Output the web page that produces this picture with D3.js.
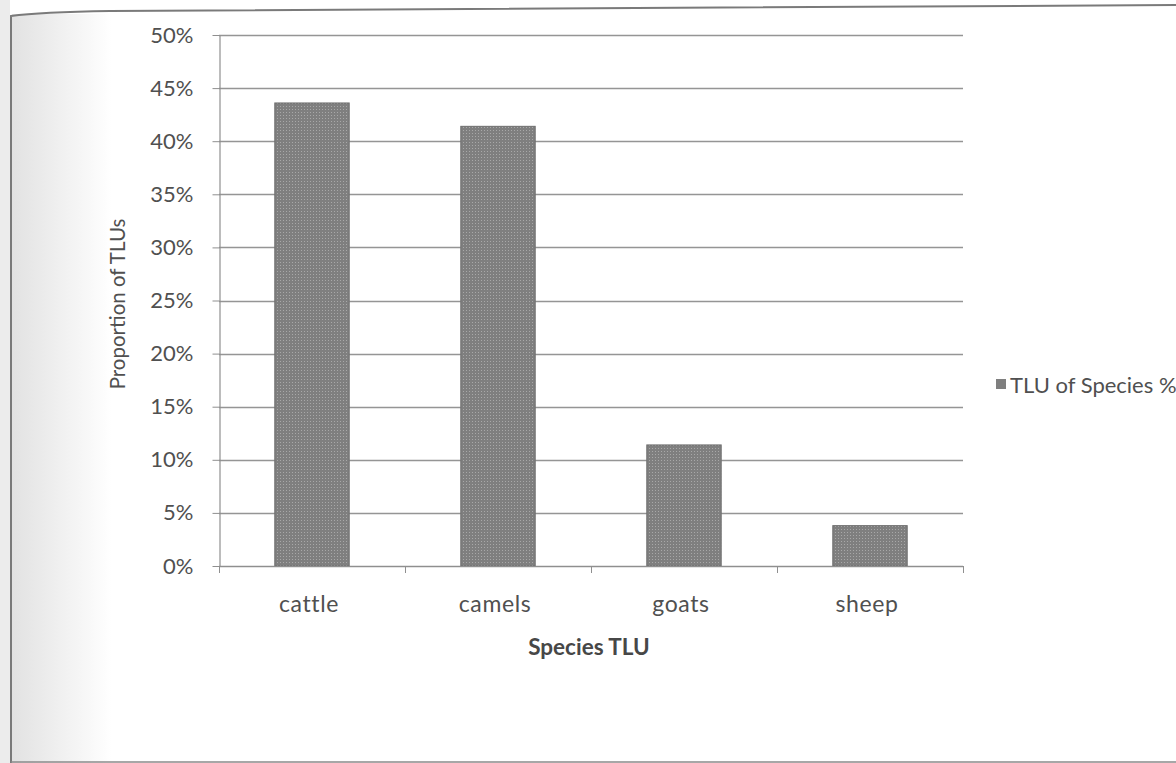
<!DOCTYPE html>
<html>
<head>
<meta charset="utf-8">
<script src="https://cdn.jsdelivr.net/npm/d3@7"></script>
<style>
  html, body { margin: 0; padding: 0; background: #fff; }
  svg { display: block; }
</style>
</head>
<body>
<svg id="chart" width="1176" height="763"></svg>
<script>
// Share of tropical livestock units (TLU) by species
const categories = ["cattle", "camels", "goats", "sheep"];
const tluShare = [0.436, 0.414, 0.114, 0.038];
const yTicks = [0, 0.05, 0.10, 0.15, 0.20, 0.25, 0.30, 0.35, 0.40, 0.45, 0.50];
const seriesName = "TLU of Species %";
const xTitle = "Species TLU";
const yTitle = "Proportion of TLUs";

const svg = d3.select("#chart");
const W = 1176, H = 763;
const font = "Lato, 'Open Sans', sans-serif";
const textCol = "#505050";

// page tone and frame
const defs = svg.append("defs");
const grad = defs.append("linearGradient").attr("id", "edge").attr("x1", 0).attr("x2", 1);
grad.append("stop").attr("offset", 0).attr("stop-color", "#e2e2e2");
grad.append("stop").attr("offset", 1).attr("stop-color", "#ffffff");
svg.append("rect").attr("width", W).attr("height", H).attr("fill", "#fff");
svg.append("rect").attr("x", 12).attr("y", 14).attr("width", 100).attr("height", H - 14).attr("fill", "url(#edge)");
svg.append("rect").attr("x", 0).attr("y", 0).attr("width", 10).attr("height", H).attr("fill", "#ececec");
svg.append("path")
  .attr("d", `M11,${H} L11,16 Q40,12 110,11 L${W},5`)
  .attr("fill", "none").attr("stroke", "#7a7a7a").attr("stroke-width", 2);
svg.append("line").attr("x1", 11).attr("x2", W).attr("y1", H - 1).attr("y2", H - 1)
  .attr("stroke", "#8a8a8a").attr("stroke-width", 1.5);

// dotted bar texture
const pat = defs.append("pattern").attr("id", "dots")
  .attr("patternUnits", "userSpaceOnUse").attr("width", 3).attr("height", 3);
pat.append("rect").attr("width", 3).attr("height", 3).attr("fill", "#7f7f7f");
pat.append("rect").attr("x", 1).attr("y", 1).attr("width", 1).attr("height", 1).attr("fill", "#a8a8a8");

const plot = { left: 219, right: 963, top: 35, bottom: 566 };

const x = d3.scaleBand().domain(categories).range([plot.left, plot.right]).paddingInner(0.6).paddingOuter(0.3);
const y = d3.scaleLinear().domain([0, 0.5]).range([plot.bottom, plot.top]);

// gridlines
svg.append("g").selectAll("line").data(yTicks).join("line")
  .attr("x1", plot.left).attr("x2", plot.right)
  .attr("y1", d => Math.round(y(d)) + 0.5).attr("y2", d => Math.round(y(d)) + 0.5)
  .attr("stroke", "#959595").attr("stroke-width", 1.3);

// y axis
const yAxis = svg.append("g").attr("transform", `translate(${plot.left + 0.5},0)`)
  .call(d3.axisLeft(y).tickValues(yTicks).tickFormat(d3.format(".0%")).tickSizeOuter(0).tickSizeInner(7).tickPadding(19));
yAxis.select(".domain").attr("stroke", "#8f8f8f").attr("stroke-width", 1.2);
yAxis.selectAll(".tick line").attr("stroke", "#8f8f8f");
yAxis.selectAll("text").attr("font-family", font).attr("font-size", 22).attr("fill", textCol);

// bars
svg.append("g").selectAll("rect").data(categories).join("rect")
  .attr("x", d => x(d))
  .attr("width", x.bandwidth())
  .attr("y", (d, i) => y(tluShare[i]))
  .attr("height", (d, i) => y(0) - y(tluShare[i]))
  .attr("fill", "url(#dots)")
  .attr("stroke", "#6e6e6e").attr("stroke-width", 1);

// x axis with ticks between categories
const boundaries = d3.range(categories.length + 1).map(i => plot.left + i * (plot.right - plot.left) / categories.length);
const xg = svg.append("g");
xg.append("line").attr("x1", plot.left).attr("x2", plot.right)
  .attr("y1", plot.bottom + 0.5).attr("y2", plot.bottom + 0.5)
  .attr("stroke", "#8f8f8f").attr("stroke-width", 1.2);
xg.selectAll("line.tk").data(boundaries).join("line").attr("class", "tk")
  .attr("x1", d => Math.round(d) + 0.5).attr("x2", d => Math.round(d) + 0.5)
  .attr("y1", plot.bottom).attr("y2", plot.bottom + 7)
  .attr("stroke", "#8f8f8f");
xg.selectAll("text").data(categories).join("text")
  .attr("x", d => x(d) + x.bandwidth() / 2 - 3)
  .attr("y", 612)
  .attr("text-anchor", "middle")
  .attr("font-family", font).attr("font-size", 23).attr("letter-spacing", 0.6).attr("fill", textCol)
  .text(d => d);

// axis titles
svg.append("text")
  .attr("x", 589).attr("y", 655)
  .attr("text-anchor", "middle")
  .attr("font-family", font).attr("font-size", 22.5).attr("font-weight", "bold").attr("fill", "#474747")
  .text(xTitle);
svg.append("text")
  .attr("transform", "translate(125,304) rotate(-90)")
  .attr("text-anchor", "middle")
  .attr("font-family", font).attr("font-size", 20.5).attr("fill", textCol)
  .text(yTitle);

// legend
const lg = svg.append("g").attr("transform", "translate(996,379)");
lg.append("rect").attr("width", 10).attr("height", 10).attr("fill", "#7f7f7f");
lg.append("text").attr("x", 14).attr("y", 13.5)
  .attr("font-family", font).attr("font-size", 22).attr("fill", textCol)
  .text(seriesName);
</script>
</body>
</html>
